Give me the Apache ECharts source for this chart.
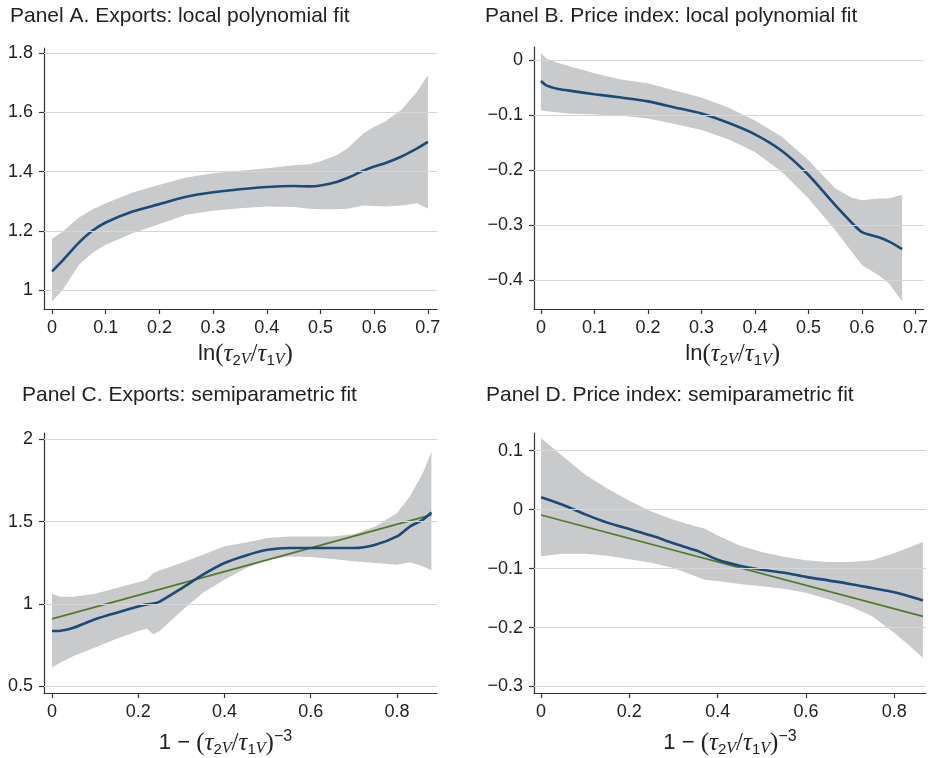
<!DOCTYPE html>
<html><head><meta charset="utf-8">
<script src="https://cdn.jsdelivr.net/npm/echarts@6/dist/echarts.min.js"></script>
<style>html,body{margin:0;padding:0;background:#fff}#c{width:931px;height:758px}</style>
</head><body><div id="c"></div>
<script>
// ---------- Data ----------
const titles = [
  'Panel A. Exports: local polynomial fit',
  'Panel B. Price index: local polynomial fit',
  'Panel C. Exports: semiparametric fit',
  'Panel D. Price index: semiparametric fit'
];
// Panel A
const aX     = [0, 0.02, 0.05, 0.075, 0.1, 0.15, 0.2, 0.25, 0.3, 0.35, 0.4, 0.45, 0.48, 0.5, 0.53, 0.55, 0.58, 0.6, 0.62, 0.65, 0.68, 0.7];
const aFit   = [1.063, 1.1, 1.16, 1.2, 1.228, 1.265, 1.29, 1.315, 1.33, 1.34, 1.348, 1.351, 1.35, 1.353, 1.365, 1.378, 1.403, 1.417, 1.428, 1.45, 1.478, 1.5];
const aUpper = [1.172, 1.198, 1.245, 1.272, 1.293, 1.329, 1.355, 1.38, 1.394, 1.403, 1.411, 1.421, 1.425, 1.435, 1.455, 1.478, 1.528, 1.551, 1.568, 1.607, 1.669, 1.725];
const aLower = [0.962, 1.001, 1.085, 1.125, 1.153, 1.192, 1.223, 1.254, 1.268, 1.276, 1.282, 1.28, 1.274, 1.273, 1.273, 1.274, 1.285, 1.284, 1.282, 1.285, 1.293, 1.274];
// Panel B
const bX     = [0, 0.01, 0.03, 0.05, 0.1, 0.15, 0.2, 0.25, 0.3, 0.35, 0.4, 0.45, 0.5, 0.55, 0.58, 0.6, 0.63, 0.65, 0.675];
const bFit   = [-0.038, -0.046, -0.052, -0.055, -0.062, -0.068, -0.075, -0.086, -0.097, -0.114, -0.135, -0.165, -0.209, -0.264, -0.295, -0.313, -0.322, -0.330, -0.344];
const bUpper = [0.013, 0.003, -0.004, -0.010, -0.024, -0.035, -0.042, -0.055, -0.068, -0.086, -0.110, -0.139, -0.182, -0.233, -0.25, -0.255, -0.252, -0.252, -0.245];
const bLower = [-0.091, -0.093, -0.095, -0.097, -0.099, -0.101, -0.106, -0.116, -0.127, -0.144, -0.167, -0.203, -0.252, -0.309, -0.348, -0.373, -0.391, -0.406, -0.439];
// Panel C
const cX     = [0, 0.02, 0.05, 0.1, 0.15, 0.2, 0.22, 0.235, 0.25, 0.3, 0.35, 0.4, 0.45, 0.5, 0.55, 0.6, 0.65, 0.7, 0.75, 0.8, 0.83, 0.86, 0.88];
const cFit   = [0.836, 0.838, 0.856, 0.907, 0.947, 0.985, 0.998, 1.003, 1.015, 1.094, 1.178, 1.249, 1.295, 1.329, 1.34, 1.34, 1.34, 1.34, 1.36, 1.41, 1.47, 1.511, 1.555];
const cUpper = [1.062, 1.044, 1.044, 1.062, 1.098, 1.132, 1.148, 1.189, 1.205, 1.249, 1.299, 1.35, 1.374, 1.40, 1.41, 1.41, 1.41, 1.424, 1.47, 1.551, 1.652, 1.793, 1.923];
const cLower = [0.615, 0.645, 0.685, 0.736, 0.79, 0.836, 0.85, 0.816, 0.836, 0.957, 1.068, 1.148, 1.219, 1.269, 1.289, 1.285, 1.273, 1.259, 1.249, 1.239, 1.253, 1.229, 1.205];
const cLinX  = [0, 0.88];
const cLinY  = [0.91, 1.541];
// Panel D
const dX     = [0, 0.05, 0.1, 0.15, 0.2, 0.25, 0.3, 0.35, 0.37, 0.4, 0.45, 0.5, 0.55, 0.6, 0.65, 0.7, 0.75, 0.8, 0.83, 0.865];
const dFit   = [0.021, 0.008, -0.008, -0.022, -0.033, -0.044, -0.057, -0.069, -0.075, -0.085, -0.095, -0.102, -0.107, -0.114, -0.12, -0.126, -0.133, -0.14, -0.146, -0.154];
const dUpper = [0.121, 0.09, 0.059, 0.036, 0.015, -0.003, -0.017, -0.028, -0.032, -0.044, -0.061, -0.072, -0.08, -0.086, -0.089, -0.089, -0.086, -0.074, -0.065, -0.055];
const dLower = [-0.079, -0.075, -0.075, -0.078, -0.084, -0.09, -0.099, -0.113, -0.119, -0.121, -0.126, -0.13, -0.134, -0.141, -0.152, -0.164, -0.181, -0.209, -0.228, -0.251];
const dLinX  = [0, 0.865];
const dLinY  = [-0.009, -0.181];
// Ticks
const aXTicks = [0, 0.1, 0.2, 0.3, 0.4, 0.5, 0.6, 0.7];
const aYTicks = [1, 1.2, 1.4, 1.6, 1.8];
const bXTicks = [0, 0.1, 0.2, 0.3, 0.4, 0.5, 0.6, 0.7];
const bYTicks = [0, -0.1, -0.2, -0.3, -0.4];
const cXTicks = [0, 0.2, 0.4, 0.6, 0.8];
const cYTicks = [0.5, 1, 1.5, 2];
const dXTicks = [0, 0.2, 0.4, 0.6, 0.8];
const dYTicks = [0.1, 0, -0.1, -0.2, -0.3];

// ---------- Styling / layout ----------
const FONT = 'Liberation Sans, Arial, Helvetica, sans-serif';
const SERIF = 'Liberation Serif, DejaVu Serif, serif';
const BLUE = '#1b4a78', GREEN = '#4f7a2a', BAND = '#c9cacc', GRID = '#d6d6d6', AXIS = '#333';

const grids = [
  {left: 44, top: 48, width: 393, height: 261},
  {left: 534, top: 47, width: 393, height: 262},
  {left: 44, top: 433, width: 393, height: 261},
  {left: 534, top: 433, width: 392, height: 261}
];
const xRanges = [[-0.015, 0.717], [-0.013, 0.715], [-0.0186, 0.893], [-0.016, 0.872]];
const yRanges = [[0.936, 1.817], [-0.453, 0.024], [0.46, 2.038], [-0.311, 0.130]];
const xTicks = [aXTicks, bXTicks, cXTicks, dXTicks];
const yTicks = [aYTicks, bYTicks, cYTicks, dYTicks];
const titlePos = [{left: 10, top: 6}, {left: 485, top: 6}, {left: 22, top: 385}, {left: 486, top: 385}];

const fmt = v => String(v).replace('-', '\u2212');

const richBase = {
  s: {fontFamily: FONT, fontSize: 22, color: '#222', lineHeight: 28},
  r: {fontFamily: SERIF, fontSize: 25, color: '#222', lineHeight: 28},
  t: {fontFamily: SERIF, fontStyle: 'italic', fontSize: 25, color: '#222', lineHeight: 28},
  n: {fontFamily: FONT, fontSize: 15, color: '#222', lineHeight: 12, verticalAlign: 'bottom'},
  v: {fontFamily: SERIF, fontStyle: 'italic', fontSize: 16, color: '#222', lineHeight: 12, verticalAlign: 'bottom'},
  sup: {fontFamily: FONT, fontSize: 16, color: '#222', lineHeight: 12, verticalAlign: 'top'}
};
const nameLn = '{s|ln}{r|(}{t|τ}{n|2}{v|V}{r|/}{t|τ}{n|1}{v|V}{r|)}';
const nameSemi = '{s|1 \u2212 }{r|(}{t|τ}{n|2}{v|V}{r|/}{t|τ}{n|1}{v|V}{r|)}{sup|\u22123}';
const names = [nameLn, nameLn, nameSemi, nameSemi];
const nameGaps = [31, 31, 36, 36];
const namePads = [[0, 0, 0, 10], [0, 0, 0, 8], [0, 30, 0, 0], [0, 0, 0, 0]];

const xAxes = [], yAxes = [], series = [];
const panels = [
  [aX, aFit, aUpper, aLower, null, null],
  [bX, bFit, bUpper, bLower, null, null],
  [cX, cFit, cUpper, cLower, cLinX, cLinY],
  [dX, dFit, dUpper, dLower, dLinX, dLinY]
];

panels.forEach((p, i) => {
  const [xs, fit, up, lo, lx, ly] = p;
  xAxes.push({
    type: 'value', gridIndex: i, min: xRanges[i][0], max: xRanges[i][1],
    axisLine: {show: true, onZero: false, lineStyle: {color: AXIS, width: 1.2}},
    axisTick: {show: true, length: 5, customValues: xTicks[i], lineStyle: {color: AXIS, width: 1.2}},
    axisLabel: {customValues: xTicks[i], formatter: fmt, fontFamily: FONT, fontSize: 18, color: '#222', margin: 10},
    splitLine: {show: false},
    name: names[i], nameLocation: 'middle', nameGap: nameGaps[i],
    nameTextStyle: {rich: richBase, padding: namePads[i]}
  });
  yAxes.push({
    type: 'value', gridIndex: i, min: yRanges[i][0], max: yRanges[i][1],
    axisLine: {show: true, onZero: false, lineStyle: {color: AXIS, width: 1.2}},
    axisTick: {show: true, length: 5, customValues: yTicks[i], lineStyle: {color: AXIS, width: 1.2}},
    axisLabel: {customValues: yTicks[i], formatter: fmt, fontFamily: FONT, fontSize: 18, color: '#222', margin: 11},
    splitLine: {show: false}
  });
  // gridlines
  series.push({
    type: 'line', xAxisIndex: i, yAxisIndex: i, data: [], silent: true, z: 1,
    markLine: {
      silent: true, symbol: ['none', 'none'], label: {show: false},
      lineStyle: {color: GRID, width: 1.2, type: 'solid'},
      emphasis: {disabled: true},
      data: yTicks[i].map(v => ({yAxis: v}))
    }
  });
  // confidence band
  series.push({
    type: 'custom', xAxisIndex: i, yAxisIndex: i, silent: true, z: 2,
    data: [[xs[0], up[0]]],
    renderItem: (params, api) => {
      const pts = xs.map((x, k) => api.coord([x, up[k]]));
      for (let k = xs.length - 1; k >= 0; k--) pts.push(api.coord([xs[k], lo[k]]));
      return {type: 'polygon', shape: {points: pts, smooth: 0}, style: {fill: BAND}};
    }
  });
  if (lx) {
    series.push({
      type: 'line', xAxisIndex: i, yAxisIndex: i, z: 3, silent: true,
      data: lx.map((x, k) => [x, ly[k]]), symbol: 'none',
      lineStyle: {color: GREEN, width: 1.6}
    });
  }
  series.push({
    type: 'line', xAxisIndex: i, yAxisIndex: i, z: 4, silent: true,
    data: xs.map((x, k) => [x, fit[k]]), symbol: 'none', smooth: 0.25,
    lineStyle: {color: BLUE, width: 2.6}
  });
});

const chart = echarts.init(document.getElementById('c'), null, {renderer: 'canvas'});
chart.setOption({
  animation: false,
  backgroundColor: '#fff',
  title: titles.map((t, i) => ({
    text: t, left: titlePos[i].left, top: titlePos[i].top, padding: 0,
    textStyle: {fontFamily: FONT, fontSize: 21, fontWeight: 'normal', color: '#222'}
  })),
  grid: grids.map(g => Object.assign({containLabel: false}, g)),
  xAxis: xAxes,
  yAxis: yAxes,
  series: series
});
</script></body></html>
